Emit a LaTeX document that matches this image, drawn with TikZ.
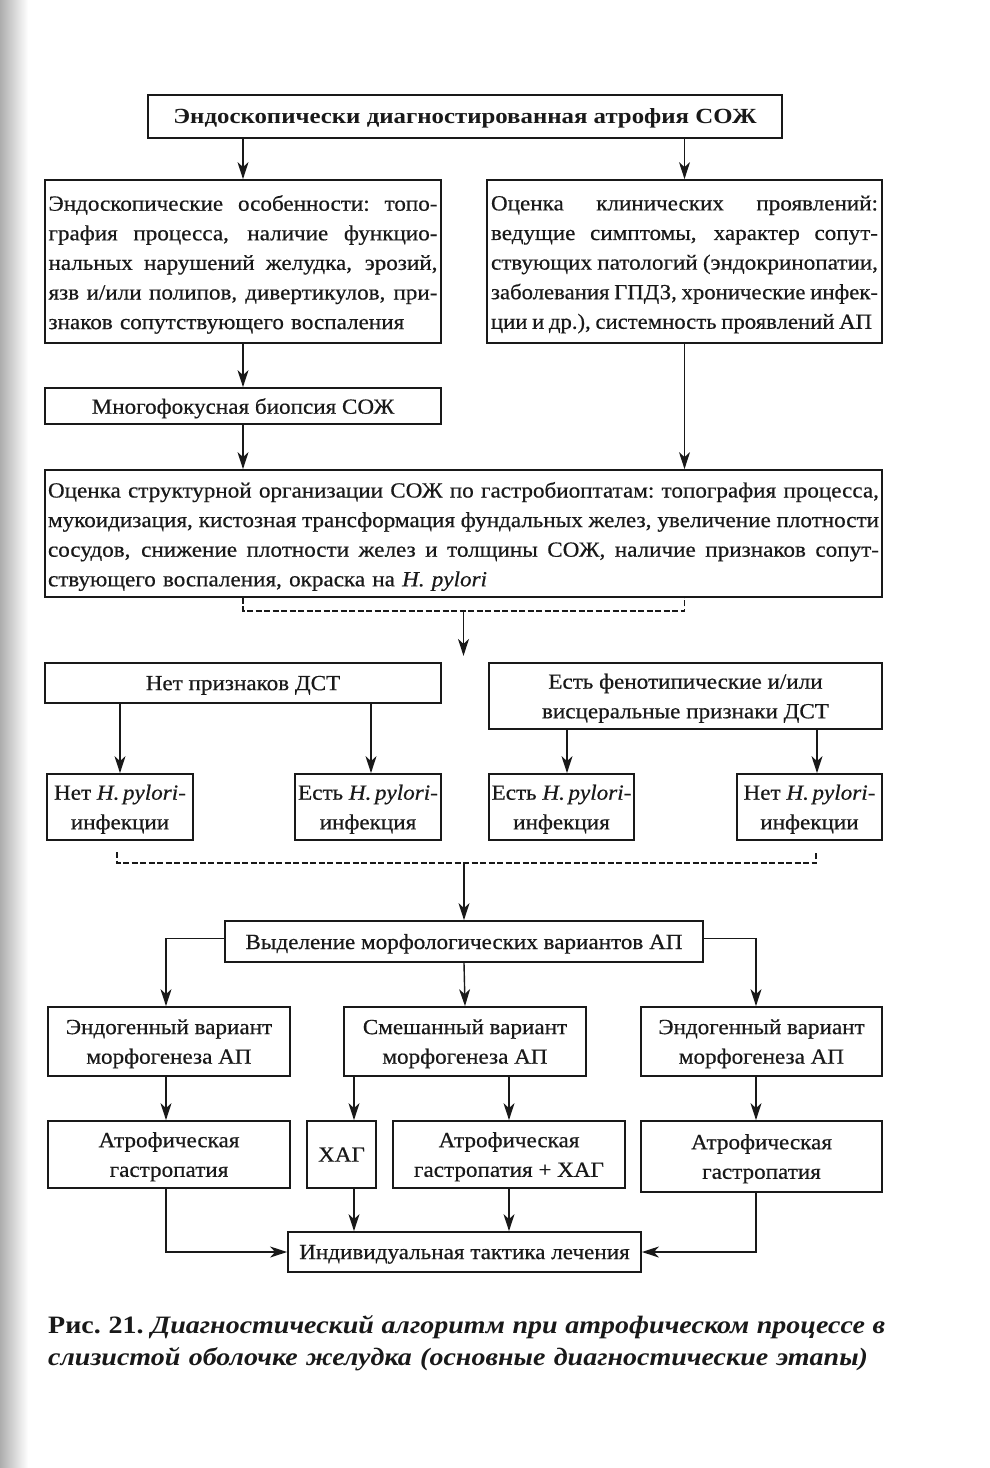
\documentclass[tikz,border=0pt]{standalone}
\usepackage{fontspec}
\usepackage{graphicx}
\setmainfont{Liberation Serif}[FakeStretch=1.07,FakeBold=0.5]
\newfontfamily\titfont{Liberation Serif}[FakeStretch=1.15]
\newfontfamily\capfont{Liberation Serif}[FakeStretch=1.12]
\usetikzlibrary{arrows.meta,calc}
\newlength\jw
\newcommand\jsp{\spaceskip=0.22em plus 1fil\xspaceskip=\spaceskip}
\newcommand\jline[2]{\leavevmode\settowidth\jw{\jsp #2}%
  \ifdim\jw>#1\relax\resizebox{#1}{\height}{\jsp #2}\else\hbox to #1{\jsp #2}\fi}
\begin{document}
\begin{tikzpicture}[x=1pt,y=-1pt,
  color=black!90,
  box/.style={draw, line width=1.8pt, inner sep=0pt, align=center,
    font=\fontsize{21.6}{29.6}\selectfont},
  sbox/.style={box, text depth=0pt},
  arr/.style={-{Stealth[length=17pt,width=11pt,inset=5pt]}, line width=1.4pt},
  dsh/.style={line width=1.7pt, dash pattern=on 6pt off 2.5pt}]
\useasboundingbox (0,0) rectangle (990,1468);
\shade[left color=black!32, right color=white, draw=none] (0,0) rectangle (28,1468);

% top
\node[sbox, minimum width=634pt, minimum height=43pt, font=\fontsize{21.6}{28}\titfont\bfseries] (top) at (465,116.5)
  {Эндоскопически диагностированная атрофия СОЖ};

% two column boxes
\node[box, minimum width=396pt, minimum height=163pt, text width=389pt, align=left] (lb) at (243,261.5)
  {\jline{389pt}{Эндоскопические особенности: топо-}\\
   \jline{389pt}{графия процесса, наличие функцио-}\\
   \jline{389pt}{нальных нарушений желудка, эрозий,}\\
   \jline{389pt}{язв и/или полипов, дивертикулов, при-}\\
   знаков сопутствующего воспаления\par\kern-6pt};
\node[box, minimum width=395pt, minimum height=163pt, text width=387pt, align=left] (rb) at (684.5,261.5)
  {\jline{387pt}{Оценка клинических проявлений:}\\
   \jline{387pt}{ведущие симптомы, характер сопут-}\\
   \jline{387pt}{ствующих патологий (эндокринопатии,}\\
   \jline{387pt}{заболевания ГПДЗ, хронические инфек-}\\
   \jline{381pt}{ции и др.), системность проявлений АП}\par\kern-6pt};

\node[sbox, minimum width=396pt, minimum height=36pt] (bio) at (243,406)
  {Многофокусная биопсия СОЖ};

\node[box, minimum width=837pt, minimum height=127pt, text width=831pt, align=left] (big) at (463.5,533.5)
  {\jline{831pt}{Оценка структурной организации СОЖ по гастробиоптатам: топография процесса,}\\
   \jline{831pt}{мукоидизация, кистозная трансформация фундальных желез, увеличение плотности}\\
   \jline{831pt}{сосудов, снижение плотности желез и толщины СОЖ, наличие признаков сопут-}\\
   ствующего воспаления, окраска на \textit{H.~pylori}\par\kern-6pt};

% row 2
\node[sbox, minimum width=396pt, minimum height=40pt] (n1) at (243,683)
  {Нет признаков ДСТ};
\node[sbox, minimum width=393pt, minimum height=66pt] (e1) at (685.5,696)
  {Есть фенотипические и/или\\висцеральные признаки ДСТ};

% row 3
\node[sbox, minimum width=146pt, minimum height=66pt] (b1) at (120,807)
  {Нет \textit{H.\,pylori}-\\инфекции};
\node[sbox, minimum width=146pt, minimum height=66pt] (b2) at (368,807)
  {Есть \textit{H.\,pylori}-\\инфекция};
\node[sbox, minimum width=145pt, minimum height=66pt] (b3) at (561.5,807)
  {Есть \textit{H.\,pylori}-\\инфекция};
\node[sbox, minimum width=145pt, minimum height=66pt] (b4) at (809.5,807)
  {Нет \textit{H.\,pylori}-\\инфекции};

% row 4
\node[sbox, minimum width=478pt, minimum height=41pt] (vy) at (464,941.5)
  {Выделение морфологических вариантов АП};
\node[sbox, minimum width=242pt, minimum height=69pt] (el) at (169,1041.5)
  {Эндогенный вариант\\морфогенеза АП};
\node[sbox, minimum width=242pt, minimum height=69pt] (sm) at (465,1041.5)
  {Смешанный вариант\\морфогенеза АП};
\node[sbox, minimum width=241pt, minimum height=69pt] (er) at (761.5,1041.5)
  {Эндогенный вариант\\морфогенеза АП};

% row 5
\node[sbox, minimum width=242pt, minimum height=67pt] (al) at (169,1154.5)
  {Атрофическая\\гастропатия};
\node[sbox, minimum width=69pt, minimum height=67pt] (xag) at (341.5,1154.5)
  {ХАГ};
\node[sbox, minimum width=232pt, minimum height=67pt] (ag) at (509,1154.5)
  {Атрофическая\\гастропатия + ХАГ};
\node[sbox, minimum width=241pt, minimum height=71pt] (ar) at (761.5,1156.5)
  {Атрофическая\\гастропатия};

\node[sbox, minimum width=353pt, minimum height=40pt] (fin) at (464.5,1252)
  {Индивидуальная тактика лечения};

% caption
\node[anchor=base west, inner sep=0pt, text width=837pt, align=left,
  font=\fontsize{25}{32}\capfont] (cap) at (48,1333)
  {\jline{837pt}{\textbf{Рис. 21.} \textbf{\textit{Диагностический алгоритм при атрофическом процессе в}}}\\
   \textbf{\textit{слизистой оболочке желудка (основные диагностические этапы)}}};

% connectors
\draw[arr] (top.south -| lb.north) -- (lb.north);
\draw[arr] (top.south -| rb.north) -- (rb.north);
\draw[arr] (lb.south) -- (bio.north);
\draw[arr] (bio.south) -- (bio.south |- big.north);
\draw[arr] (rb.south) -- (rb.south |- big.north);

\coordinate (k1) at ([yshift=-13pt]big.south);
\coordinate (k1end) at ([yshift=-45pt]k1);
\draw[dsh] (bio.south |- big.south) |- (k1) -| (rb.south |- big.south);
\draw[arr] (k1) -- (k1end);

\draw[arr] (n1.south -| b1.north) -- (b1.north);
\coordinate (b2t) at ([xshift=3pt]b2.north);
\draw[arr] (n1.south -| b2t) -- (b2t);
\coordinate (b3t) at ([xshift=5.5pt]b3.north);
\draw[arr] (e1.south -| b3t) -- (b3t);
\coordinate (b4t) at ([xshift=7.5pt]b4.north);
\draw[arr] (e1.south -| b4t) -- (b4t);

\coordinate (m1) at (464,863);
\coordinate (m1a) at (117,852);
\coordinate (m1b) at (816,852);
\draw[dsh] (m1a) |- (m1) -| (m1b);
\draw[arr] (m1) -- (vy.north);

\coordinate (elt) at ([xshift=-3pt]el.north);
\coordinate (ert) at ([xshift=-5.5pt]er.north);
\draw[arr] ([yshift=3pt]vy.west) -| (elt);
\draw[arr] (vy.south) -- (sm.north);
\draw[arr] ([yshift=3pt]vy.east) -| (ert);

\draw[arr] (el.south -| elt) -- (al.north -| elt);
\coordinate (xa) at ([xshift=12.5pt]xag.north);
\draw[arr] (sm.south -| xa) -- (xa);
\draw[arr] (sm.south -| ag.north) -- (ag.north);
\draw[arr] (er.south -| ert) -- (ar.north -| ert);

\draw[arr] (al.south -| elt) |- (fin.west);
\draw[arr] (xag.south -| xa) -- (fin.north -| xa);
\draw[arr] (ag.south) -- (ag.south |- fin.north);
\draw[arr] (ar.south -| ert) |- (fin.east);
\end{tikzpicture}
\end{document}
